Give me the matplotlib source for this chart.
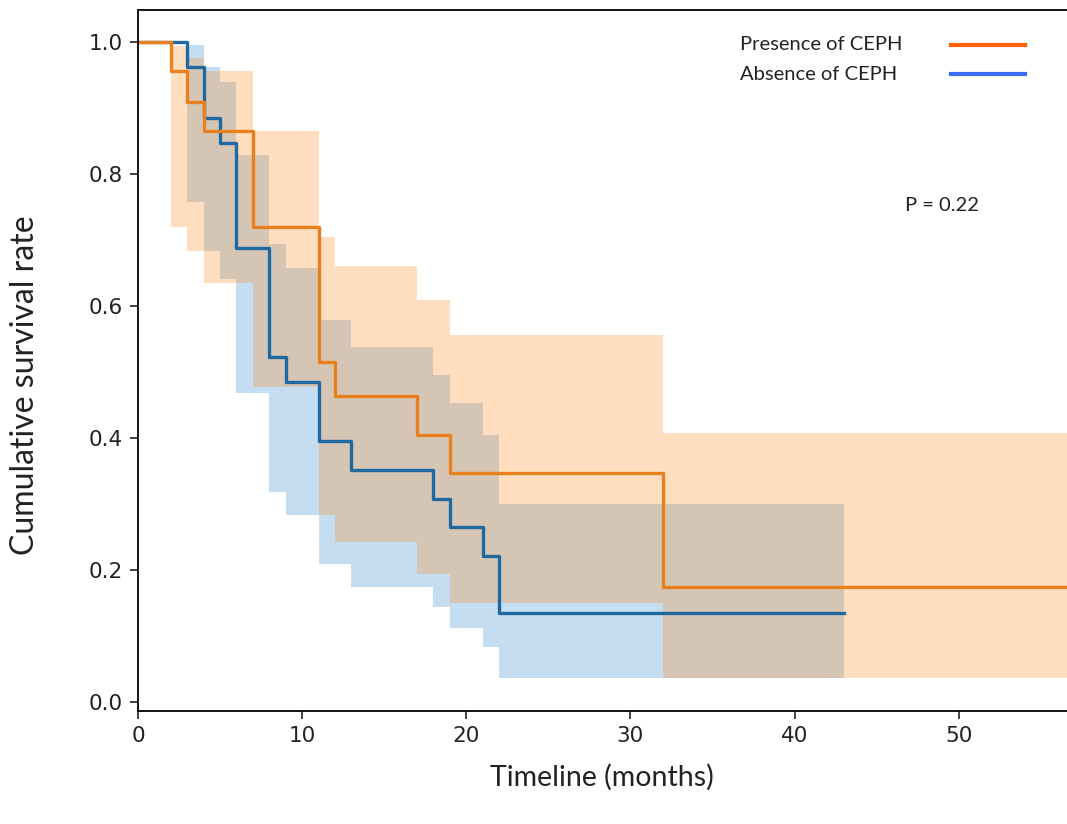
import matplotlib.pyplot as plt
from matplotlib.lines import Line2D

# Kaplan-Meier curves with 95% CI
pres_t = [0, 2, 3, 4, 7, 11, 12, 17, 19, 32, 58]
pres_s = [1.0, 0.955, 0.909, 0.864, 0.72, 0.515, 0.463, 0.405, 0.347, 0.174, 0.174]
pres_lo = [1.0, 0.719, 0.683, 0.635, 0.477, 0.284, 0.242, 0.194, 0.15, 0.036, 0.036]
pres_hi = [1.0, 0.994, 0.976, 0.956, 0.864, 0.705, 0.66, 0.609, 0.556, 0.407, 0.407]

abs_t = [0, 3, 4, 5, 6, 8, 9, 11, 13, 18, 19, 21, 22, 43]
abs_s = [1.0, 0.962, 0.885, 0.846, 0.688, 0.523, 0.484, 0.395, 0.352, 0.308, 0.265, 0.221, 0.135, 0.135]
abs_lo = [1.0, 0.757, 0.683, 0.64, 0.468, 0.318, 0.284, 0.209, 0.175, 0.144, 0.112, 0.084, 0.036, 0.036]
abs_hi = [1.0, 0.995, 0.962, 0.939, 0.829, 0.694, 0.658, 0.578, 0.538, 0.495, 0.453, 0.405, 0.30, 0.30]

labels = ['Presence of CEPH', 'Absence of CEPH']
p_text = 'P = 0.22'
xticks = [0, 10, 20, 30, 40, 50]
yticks = [0.0, 0.2, 0.4, 0.6, 0.8, 1.0]

fig = plt.figure(figsize=(10.67, 8.24), dpi=100)
ax = fig.add_axes([0.1293, 0.1371, 0.8707, 0.8508])

ax.fill_between(abs_t, abs_lo, abs_hi, step='post', color='#3f8fd0', alpha=0.3, linewidth=0)
ax.plot(abs_t, abs_s, drawstyle='steps-post', color='#1f68a0', linewidth=2.4)
ax.fill_between(pres_t, pres_lo, pres_hi, step='post', color='#ff8a1e', alpha=0.28, linewidth=0)
ax.plot(pres_t, pres_s, drawstyle='steps-post', color='#e8801e', linewidth=2.4)

ax.set_xlim(0, 56.6)
ax.set_ylim(-0.0135, 1.048)
ax.set_xticks(xticks)
ax.set_yticks(yticks)
ax.set_xticklabels([str(v) for v in xticks], family='DejaVu Sans')
ax.set_yticklabels(['%.1f' % v for v in yticks], family='DejaVu Sans')
ax.tick_params(labelsize=15.5, length=6, width=1.2, colors='#222222', pad=5)
ax.spines['right'].set_visible(False)
for s in ['left', 'top', 'bottom']:
    ax.spines[s].set_linewidth(1.3)

fig.text(0.5642, 0.057, 'Timeline (months)', ha='center', va='center',
         family='Lato', fontsize=20.5, color='#222222')
fig.text(0.0234, 0.533, 'Cumulative survival rate', ha='center', va='center',
         rotation=90, family='Lato', fontsize=23, color='#222222')

# hand-made legend
fig.text(0.6935, 0.9454, labels[0], ha='left', va='center', family='Lato',
         fontsize=14.5, color='#222222')
fig.text(0.6935, 0.909, labels[1], ha='left', va='center', family='Lato',
         fontsize=14.5, color='#222222')
fig.add_artist(Line2D([0.8913, 0.9606], [0.9454, 0.9454], color='#ff6000', linewidth=3))
fig.add_artist(Line2D([0.8913, 0.9606], [0.9102, 0.9102], color='#3b6cf6', linewidth=3))
fig.text(0.848, 0.7512, p_text, ha='left', va='center', family='Lato',
         fontsize=14.5, color='#222222')

fig.savefig('out.png', dpi=100)
